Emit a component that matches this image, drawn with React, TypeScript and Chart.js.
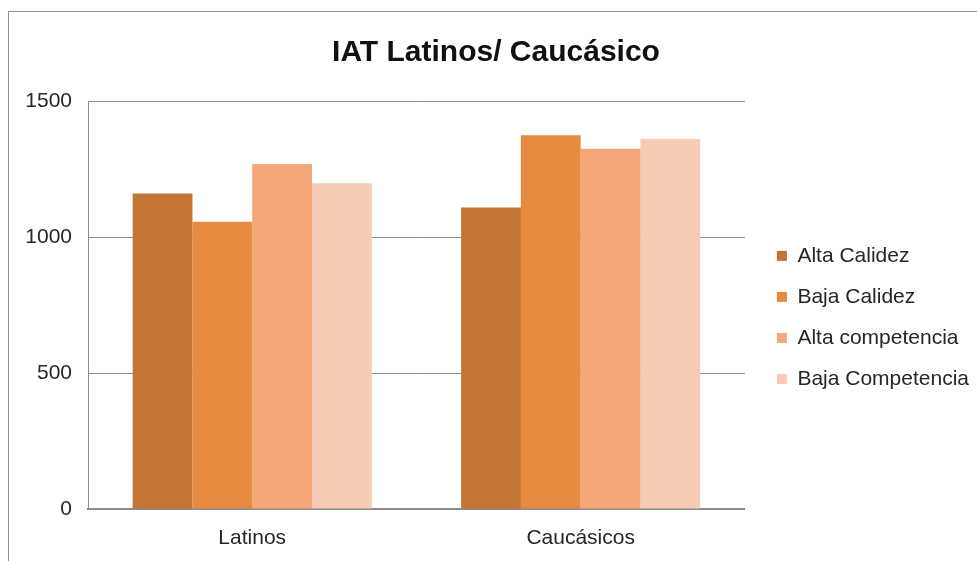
import React, { useEffect, useRef } from "react";
import { Chart, registerables } from "chart.js";

Chart.register(...registerables);

const categories = ["Latinos", "Caucásicos"];
const seriesNames = ["Alta Calidez", "Baja Calidez", "Alta competencia", "Baja Competencia"];
const altaCalidez = [1160, 1108];
const bajaCalidez = [1056, 1374];
const altaCompetencia = [1268, 1324];
const bajaCompetencia = [1198, 1360];
const seriesColors = ["#C27535", "#E68B40", "#F5A877", "#F7CBB4"];
const yTicks = [0, 500, 1000, 1500];

const FONT = "'Liberation Sans', Arial, sans-serif";

export default function App() {
  const ref = useRef<HTMLCanvasElement | null>(null);

  useEffect(() => {
    if (!ref.current) return;
    const values = [altaCalidez, bajaCalidez, altaCompetencia, bajaCompetencia];
    const chart = new Chart(ref.current, {
      type: "bar",
      data: {
        labels: categories,
        datasets: seriesNames.map((name, i) => ({
          label: name,
          data: values[i],
          backgroundColor: seriesColors[i],
          borderWidth: 0,
          categoryPercentage: 0.728,
          barPercentage: 1.0,
        })),
      },
      options: {
        responsive: false,
        animation: false,
        layout: { padding: { left: 13, right: -2, top: 0, bottom: 0 } },
        plugins: {
          title: {
            display: true,
            text: "IAT Latinos/ Caucásico",
            color: "#111111",
            font: { family: FONT, size: 30, weight: "bold" },
            padding: { top: 35, bottom: 30 },
          },
          legend: {
            display: true,
            position: "right",
            align: "start",
            fullSize: false,
            maxWidth: 400,
            title: { display: true, text: "", padding: { top: 110, bottom: 0 }, font: { size: 12 } },
            labels: {
              boxWidth: 10,
              boxHeight: 10,
              padding: 20,
              color: "#262626",
              font: { family: FONT, size: 21 },
            },
          },
          tooltip: { enabled: false },
        },
        scales: {
          x: {
            grid: { display: false, drawTicks: false },
            border: { display: true, color: "#8c8c8c", width: 2 },
            ticks: { color: "#262626", font: { family: FONT, size: 21 }, padding: 17 },
            afterFit: (s: any) => {
              s.height = 52;
            },
          },
          y: {
            min: 0,
            max: 1500,
            afterBuildTicks: (s: any) => {
              s.ticks = yTicks.map((v) => ({ value: v }));
            },
            grid: { color: "#8c8c8c", lineWidth: 1, drawTicks: false },
            border: { display: true, color: "#8c8c8c", width: 1 },
            ticks: {
              color: "#262626",
              font: { family: FONT, size: 21 },
              padding: 16,
              callback: (v: any) => String(v),
            },
            afterFit: (s: any) => {
              s.width = 75;
            },
          },
          y2: {
            position: "right",
            display: true,
            grid: { display: false, drawTicks: false },
            border: { display: false },
            ticks: { display: false },
            afterFit: (s: any) => {
              s.width = 12;
            },
          },
        },
      },
    } as any);
    return () => chart.destroy();
  }, []);

  return (
    <div style={{ position: "absolute", left: 0, top: 0, width: 977, height: 561, background: "#ffffff", overflow: "hidden" }}>
      <div
        style={{
          position: "absolute",
          left: 8,
          top: 11,
          width: 1000,
          height: 600,
          borderLeft: "1px solid #8f8f8f",
          borderTop: "1px solid #8f8f8f",
        }}
      />
      <canvas ref={ref} width={977} height={561} style={{ position: "absolute", left: 0, top: 0 }} />
    </div>
  );
}
